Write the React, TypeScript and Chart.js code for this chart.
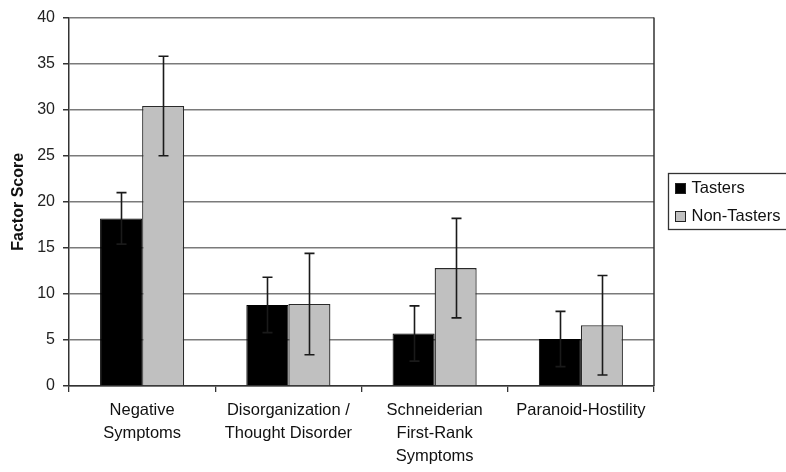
import React, { useEffect, useRef } from "react";
import { Chart, registerables } from "chart.js";

Chart.register(...registerables);

const categories: string[][] = [
  ["Negative", "Symptoms"],
  ["Disorganization /", "Thought Disorder"],
  ["Schneiderian", "First-Rank", "Symptoms"],
  ["Paranoid-Hostility"],
];
const seriesNames = ["Tasters", "Non-Tasters"];
const tasters = [18.2, 8.8, 5.7, 5.1];
const tastersErr = [2.8, 3.0, 3.0, 3.0];
const nonTasters = [30.4, 8.9, 12.8, 6.6];
const nonTastersErr = [5.4, 5.5, 5.4, 5.4];
const yMin = 0;
const yMax = 40;
const yStep = 5;
const yTitle = "Factor Score";

const FONT = "'Liberation Sans', Arial, sans-serif";
const errors = [tastersErr, nonTastersErr];

const errorBarPlugin = {
  id: "errorBars",
  afterDatasetsDraw(chart: any) {
    const ctx = chart.ctx;
    const yScale = chart.scales.y;
    chart.data.datasets.forEach((ds: any, i: number) => {
      const meta = chart.getDatasetMeta(i);
      meta.data.forEach((bar: any, j: number) => {
        const v = ds.data[j];
        const e = errors[i][j];
        const x = Math.round(bar.x) + 0.5;
        const yt = yScale.getPixelForValue(v + e);
        const yb = yScale.getPixelForValue(v - e);
        ctx.save();
        ctx.strokeStyle = "#1a1a1a";
        ctx.lineWidth = 1.6;
        ctx.beginPath();
        ctx.moveTo(x, yt);
        ctx.lineTo(x, yb);
        ctx.moveTo(x - 5, yt);
        ctx.lineTo(x + 5, yt);
        ctx.moveTo(x - 5, yb);
        ctx.lineTo(x + 5, yb);
        ctx.stroke();
        ctx.restore();
      });
    });
  },
};

const frameLegendPlugin = {
  id: "frameLegend",
  afterDraw(chart: any) {
    const ctx = chart.ctx;
    const a = chart.chartArea;
    ctx.save();
    // right border of plot area
    ctx.strokeStyle = "#333";
    ctx.lineWidth = 1.5;
    ctx.beginPath();
    ctx.moveTo(a.right, a.top);
    ctx.lineTo(a.right, a.bottom);
    ctx.stroke();
    // legend
    const cy = (a.top + a.bottom) / 2;
    const lx = Math.round(a.right + 14) + 0.5;
    const ly = Math.round(cy - 28.5) + 0.5;
    const lw = 122;
    const lh = 56;
    ctx.strokeStyle = "#333";
    ctx.lineWidth = 1.3;
    ctx.strokeRect(lx, ly, lw, lh);
    ctx.font = `16.5px ${FONT}`;
    ctx.textBaseline = "middle";
    ctx.textAlign = "left";
    chart.data.datasets.forEach((ds: any, i: number) => {
      const rowY = ly + 15 + i * 28;
      ctx.fillStyle = ds.backgroundColor;
      ctx.fillRect(lx + 7, rowY - 5, 10, 10);
      ctx.strokeStyle = "#222";
      ctx.lineWidth = 1;
      ctx.strokeRect(lx + 7, rowY - 5, 10, 10);
      ctx.fillStyle = "#111";
      ctx.fillText(ds.label, lx + 23, rowY);
    });
    ctx.restore();
  },
};

export default function App() {
  const ref = useRef<HTMLCanvasElement | null>(null);
  useEffect(() => {
    if (!ref.current) return;
    const chart = new Chart(ref.current, {
      type: "bar",
      data: {
        labels: categories as any,
        datasets: [
          {
            label: seriesNames[0],
            data: tasters,
            backgroundColor: "#000000",
            borderColor: "#000000",
            borderWidth: 1,
            barPercentage: 1,
            categoryPercentage: 0.575,
          },
          {
            label: seriesNames[1],
            data: nonTasters,
            backgroundColor: "#c0c0c0",
            borderColor: "#2a2a2a",
            borderWidth: 1.3,
            barPercentage: 1,
            categoryPercentage: 0.575,
          },
        ],
      },
      options: {
        animation: false,
        responsive: false,
        layout: { padding: { top: 15, right: 132, left: 0, bottom: 0 } },
        plugins: {
          legend: { display: false },
          tooltip: { enabled: false },
        },
        scales: {
          x: {
            grid: {
              display: true,
              drawOnChartArea: false,
              drawTicks: true,
              tickLength: 6,
              color: "#333",
              lineWidth: 1.3,
              offset: true,
            },
            border: { display: true, color: "#333", width: 1.5 },
            ticks: {
              font: { family: FONT, size: 16.5, lineHeight: 1.4 },
              color: "#111",
              padding: 7,
              maxRotation: 0,
              autoSkip: false,
            },
            afterFit(scale: any) {
              scale.height = 86;
            },
          },
          y: {
            min: yMin,
            max: yMax,
            ticks: {
              stepSize: yStep,
              font: { family: FONT, size: 16 },
              color: "#222",
              padding: 8,
            },
            grid: {
              color: "#7a7a7a",
              lineWidth: 1.5,
              tickLength: 6,
              tickColor: "#333",
            },
            border: { display: true, color: "#333", width: 1.5 },
            title: {
              display: true,
              text: yTitle,
              font: { family: FONT, size: 16, weight: "bold" },
              color: "#111",
              padding: { top: 9, bottom: 4 },
            },
            afterFit(scale: any) {
              scale.width = 69;
            },
          },
        },
      },
      plugins: [errorBarPlugin, frameLegendPlugin],
    });
    return () => chart.destroy();
  }, []);
  return (
    <div style={{ position: "fixed", left: 0, top: 0, width: 786, height: 472, background: "#fff" }}>
      <canvas ref={ref} width={786} height={472} style={{ display: "block" }} />
    </div>
  );
}
